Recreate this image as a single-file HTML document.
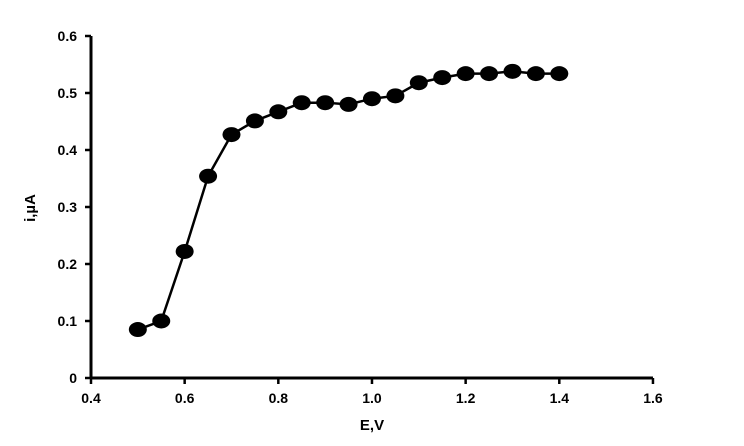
<!DOCTYPE html>
<html><head><meta charset="utf-8"><style>
body{margin:0;background:#fff}
svg{display:block;font-family:"Liberation Sans",sans-serif;font-weight:bold}
</style></head><body>
<svg width="744" height="446" viewBox="0 0 744 446" id="c">
<g id="axes"></g><g id="series"></g>
<text x="372" y="430" font-size="15" text-anchor="middle">E,V</text>
<text x="0" y="0" font-size="15" text-anchor="middle" transform="translate(35,208) rotate(-90)">i,µA</text>
</svg>
<script>
const xValues=[0.5,0.55,0.6,0.65,0.7,0.75,0.8,0.85,0.9,0.95,1.0,1.05,1.1,1.15,1.2,1.25,1.3,1.35,1.4];
const yValues=[0.085,0.1,0.222,0.354,0.427,0.451,0.467,0.483,0.483,0.48,0.49,0.495,0.518,0.527,0.534,0.534,0.538,0.534,0.534];
const xTicks=[0.4,0.6,0.8,1.0,1.2,1.4,1.6];
const yTicks=[0,0.1,0.2,0.3,0.4,0.5,0.6];
const xTickLabels=["0.4","0.6","0.8","1.0","1.2","1.4","1.6"];
const yTickLabels=["0","0.1","0.2","0.3","0.4","0.5","0.6"];
const NS="http://www.w3.org/2000/svg";
const X=v=>91+(v-0.4)*468.3, Y=v=>378-v*570;
function mk(t,a,p){const e=document.createElementNS(NS,t);for(const k in a)e.setAttribute(k,a[k]);p.appendChild(e);return e;}
const ax=document.getElementById('axes'), se=document.getElementById('series');
let l=mk('line',{x1:X(0.4),y1:Y(0),x2:X(1.6),y2:Y(0),stroke:'#000','stroke-width':3},ax);


l=mk('line',{x1:X(0.4),y1:Y(0)+1,x2:X(0.4),y2:Y(0.6),stroke:'#000','stroke-width':3},ax);


xTicks.forEach((v,i)=>{
  mk('line',{x1:X(v),y1:Y(0),x2:X(v),y2:Y(0)+6,stroke:'#000','stroke-width':2.5},ax);
  const t=mk('text',{x:X(v),y:Y(0)+25,'font-size':14,'text-anchor':'middle'},ax);
  t.textContent=xTickLabels[i];
  
  
});
yTicks.forEach((v,i)=>{
  mk('line',{x1:X(0.4)-6,y1:Y(v),x2:X(0.4),y2:Y(v),stroke:'#000','stroke-width':2.5},ax);
  const t=mk('text',{x:X(0.4)-14,y:Y(v)+5,'font-size':14,'text-anchor':'end'},ax);
  t.textContent=yTickLabels[i];
  
  
});
const p=mk('polyline',{points:xValues.map((x,i)=>X(x)+','+Y(yValues[i])).join(' '),fill:'none',stroke:'#000','stroke-width':2.5},se);


xValues.forEach((x,i)=>{
  const c=mk('ellipse',{cx:X(x),cy:Y(yValues[i]),rx:9,ry:7.5,fill:'#000'},se);
  
  
});
</script>
</body></html>
